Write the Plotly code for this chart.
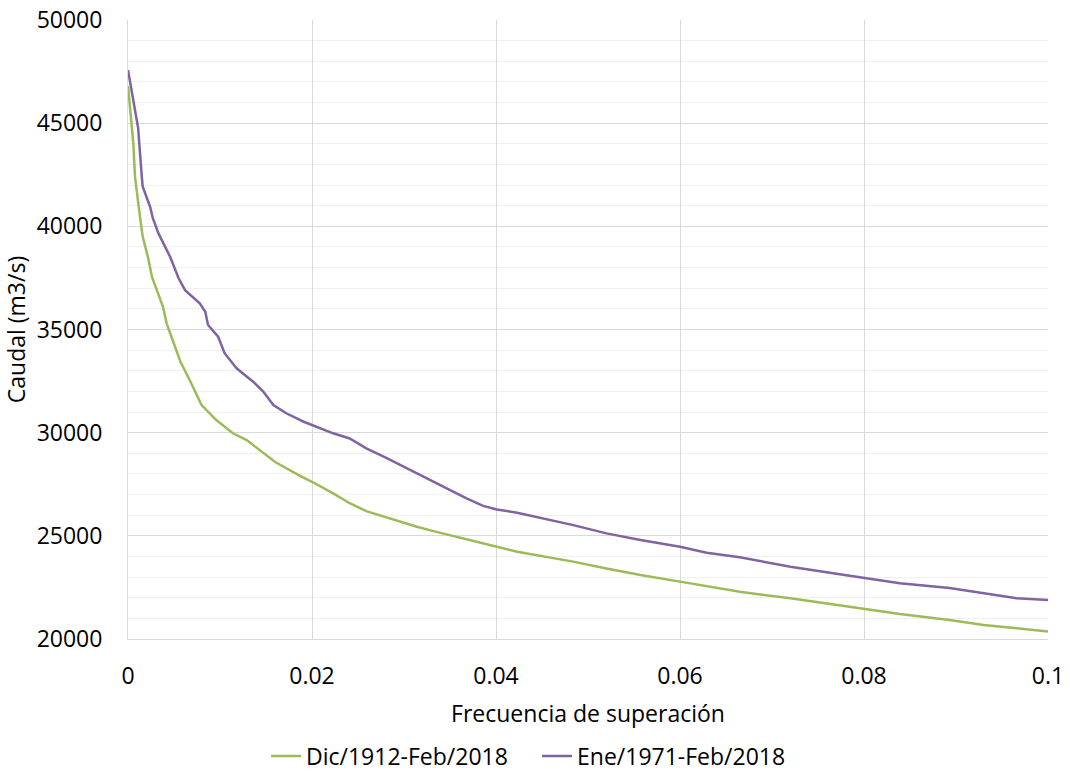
import plotly.graph_objects as go

# Dic/1912-Feb/2018 (green)
freq_dic = [0.0, 0.00058, 0.00076, 0.00095, 0.0013, 0.0016, 0.0022, 0.0026, 0.0031, 0.0038,
            0.0042, 0.0049, 0.0057, 0.0067, 0.0080, 0.0096, 0.0114, 0.0129, 0.0143, 0.0160,
            0.0187, 0.0200, 0.0223, 0.0241, 0.0259, 0.0278, 0.0296, 0.0314, 0.0332, 0.0350,
            0.0368, 0.0401, 0.0423, 0.0459, 0.0484, 0.0520, 0.0557, 0.0600, 0.0629, 0.0665,
            0.0720, 0.0779, 0.0839, 0.0893, 0.0930, 0.0966, 0.1000]
caudal_dic = [46800, 44020, 42400, 41600, 40470, 39500, 38450, 37560, 36910, 36100,
              35300, 34410, 33440, 32550, 31340, 30610, 29970, 29640, 29160, 28580,
              27910, 27620, 27060, 26580, 26200, 25930, 25690, 25440, 25230, 25040,
              24830, 24470, 24230, 23960, 23750, 23420, 23100, 22780, 22570, 22290,
              21970, 21580, 21210, 20920, 20680, 20520, 20360]

# Ene/1971-Feb/2018 (purple)
freq_ene = [0.0, 0.00095, 0.0011, 0.0015, 0.0016, 0.0024, 0.0027, 0.0033, 0.0038, 0.0046,
            0.0055, 0.0062, 0.0078, 0.0084, 0.0087, 0.0098, 0.0105, 0.0118, 0.0136, 0.0147,
            0.0158, 0.0172, 0.0191, 0.0200, 0.0223, 0.0241, 0.0259, 0.0278, 0.0296, 0.0314,
            0.0332, 0.0350, 0.0368, 0.0386, 0.0401, 0.0423, 0.0459, 0.0484, 0.0520, 0.0557,
            0.0600, 0.0629, 0.0665, 0.0720, 0.0779, 0.0839, 0.0893, 0.0930, 0.0966, 0.1000]
caudal_ene = [47576, 45100, 44770, 42400, 41920, 40950, 40400, 39670, 39240, 38500,
              37480, 36910, 36270, 35860, 35220, 34650, 33850, 33120, 32470, 31990,
              31340, 30940, 30530, 30370, 29970, 29720, 29240, 28840, 28430, 28030,
              27620, 27220, 26820, 26450, 26280, 26120, 25770, 25520, 25120, 24800,
              24470, 24180, 23960, 23500, 23100, 22700, 22470, 22220, 21970, 21890]

series_names = ["Dic/1912-Feb/2018", "Ene/1971-Feb/2018"]
series_colors = ["#9BBB59", "#8064A2"]

fig = go.Figure()
fig.add_trace(go.Scatter(x=freq_dic, y=caudal_dic, mode="lines", name=series_names[0],
                         line=dict(color=series_colors[0], width=2.5)))
fig.add_trace(go.Scatter(x=freq_ene, y=caudal_ene, mode="lines", name=series_names[1],
                         line=dict(color=series_colors[1], width=2.5)))

font_family = "Open Sans, Liberation Sans, sans-serif"
fig.update_layout(
    width=1070, height=776,
    margin=dict(l=128, r=22, t=20, b=137, autoexpand=False),
    paper_bgcolor="white", plot_bgcolor="white",
    font=dict(family=font_family, size=23, color="#000000"),
    showlegend=True,
    legend=dict(orientation="h", xref="container", yref="container",
                x=266 / 1070, xanchor="left", y=20 / 776, yanchor="middle",
                font=dict(size=23), itemwidth=30, entrywidth=226, entrywidthmode="pixels",
                traceorder="normal"),
    xaxis=dict(range=[0, 0.1], dtick=0.02, tick0=0, showgrid=True, gridcolor="#d9d9d9",
               gridwidth=1, zeroline=False, showline=True, linecolor="#d9d9d9", linewidth=1,
               ticks="", automargin=False, ticklabelstandoff=16,
               title=dict(text="Frecuencia de superación", font=dict(size=23), standoff=16)),
    yaxis=dict(range=[20000, 50000], dtick=5000, tick0=20000, tickformat="d",
               showgrid=True, gridcolor="#d9d9d9", gridwidth=1,
               minor=dict(dtick=1000, showgrid=True, gridcolor="#f0f0f0", gridwidth=1),
               zeroline=False, showline=True, linecolor="#d9d9d9", linewidth=1,
               ticks="", automargin=False, ticklabelstandoff=20,
               title=dict(text="Caudal (m3/s)", font=dict(size=23), standoff=12)),
)

fig.write_html("out.html")
